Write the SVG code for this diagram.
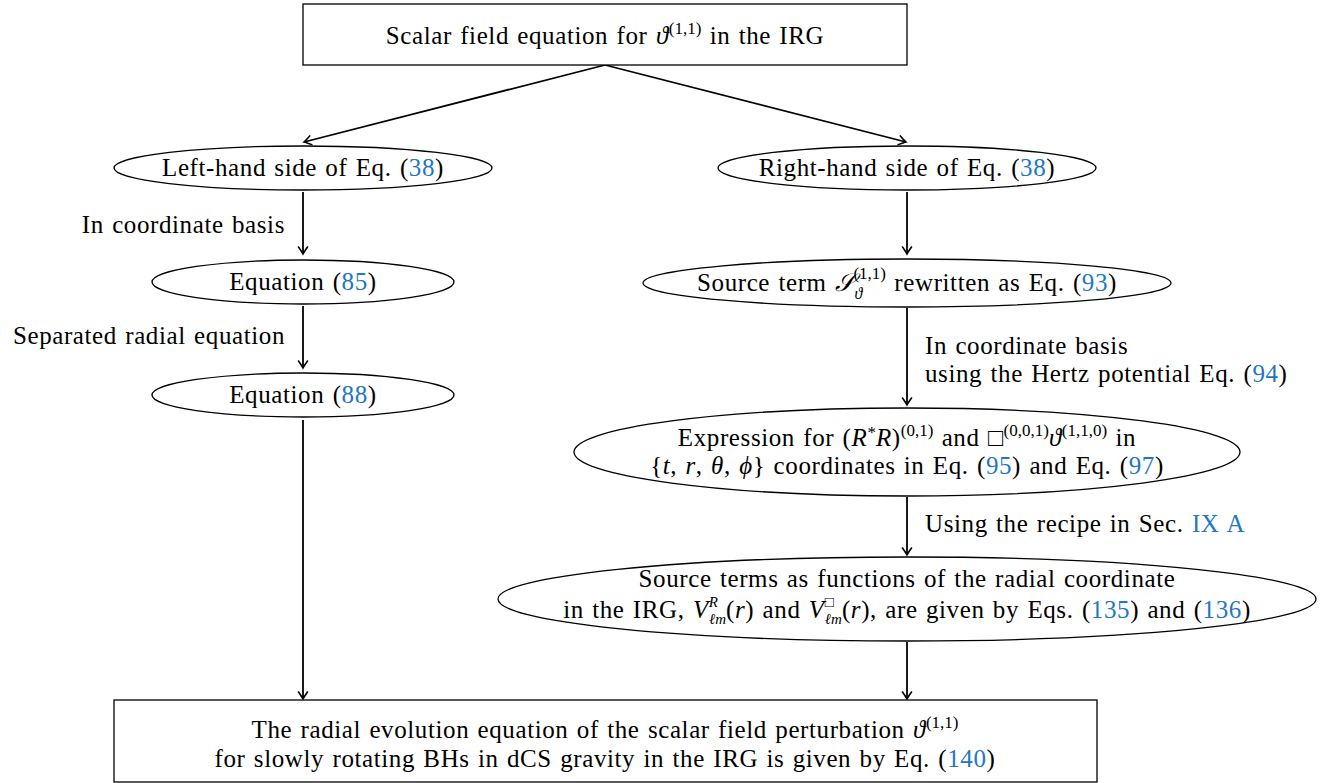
<svg xmlns="http://www.w3.org/2000/svg" width="1335" height="783" viewBox="0 0 1335 783">
<defs>
<marker id="arr" viewBox="-8 -6 10 12" markerWidth="10" markerHeight="12" refX="0" refY="0" orient="auto" markerUnits="userSpaceOnUse">
<path d="M -7 -4.5 Q -2 -1 0 0 Q -2 1 -7 4.5" fill="none" stroke="#000" stroke-width="1.6" stroke-linecap="round"/>
</marker>
<style>
text{font-family:'Liberation Serif',serif}
.t{font-size:25px;letter-spacing:0.6px;word-spacing:1.5px;fill:#000}
.m{text-anchor:middle}
.e{text-anchor:end}
.i{font-style:italic}
.b{fill:#1f78c4}
.s{font-size:17px;letter-spacing:0}
.u{font-size:16px;letter-spacing:0}
.v{font-size:15px;letter-spacing:0}
.shape{fill:#fff;stroke:#000;stroke-width:1.3}
.c{fill:none;stroke:#000;stroke-width:1.8;marker-end:url(#arr)}
</style>
</defs>
<g id="connectors">
<line class="c" x1="605" y1="65" x2="304" y2="142"/>
<line class="c" x1="605" y1="65" x2="906" y2="142"/>
<line class="c" x1="303" y1="192" x2="303" y2="254"/>
<line class="c" x1="303" y1="306" x2="303" y2="368"/>
<line class="c" x1="303" y1="420" x2="303" y2="699"/>
<line class="c" x1="907" y1="192" x2="907" y2="254"/>
<line class="c" x1="907" y1="308" x2="907" y2="405"/>
<line class="c" x1="907" y1="497" x2="907" y2="555"/>
<line class="c" x1="907" y1="642" x2="907" y2="699"/>
<text class="t e" x="285" y="233">In coordinate basis</text>
<text class="t e" x="285" y="344">Separated radial equation</text>
<text class="t" x="925" y="354">In coordinate basis</text>
<text class="t" x="925" y="382">using the Hertz potential Eq. (<tspan class="b">94</tspan>)</text>
<text class="t" x="925" y="532">Using the recipe in Sec. <tspan class="b">IX A</tspan></text>
</g>
<g id="n-top">
<rect class="shape" x="303" y="4" width="604" height="61"/>
<text class="t m" x="605" y="44">Scalar field equation for <tspan class="i">ϑ</tspan><tspan class="s" dy="-10">(1,1)</tspan><tspan dy="10"> in the IRG</tspan></text>
</g>
<g id="n-lhs">
<ellipse class="shape" cx="303" cy="168" rx="189" ry="22"/>
<text class="t m" x="303" y="176">Left-hand side of Eq. (<tspan class="b">38</tspan>)</text>
</g>
<g id="n-rhs">
<ellipse class="shape" cx="907" cy="168" rx="189" ry="22"/>
<text class="t m" x="907" y="176">Right-hand side of Eq. (<tspan class="b">38</tspan>)</text>
</g>
<g id="n-eq85">
<ellipse class="shape" cx="303" cy="282" rx="151" ry="22"/>
<text class="t m" x="303" y="290">Equation (<tspan class="b">85</tspan>)</text>
</g>
<g id="n-eq88">
<ellipse class="shape" cx="303" cy="395" rx="151" ry="22"/>
<text class="t m" x="303" y="403">Equation (<tspan class="b">88</tspan>)</text>
</g>
<g id="n-source">
<ellipse class="shape" cx="907" cy="283" rx="264" ry="24"/>
<text class="t m" x="907" y="291">Source term <tspan class="i">𝒮</tspan><tspan class="u i" dy="8">ϑ</tspan><tspan class="s" dx="-9" dy="-20">(1,1)</tspan><tspan dy="12"> rewritten as Eq. (</tspan><tspan class="b">93</tspan>)</text>
</g>
<g id="n-expr">
<ellipse class="shape" cx="907" cy="452" rx="333" ry="44"/>
<text class="t m" x="907" y="446">Expression for (<tspan class="i">R</tspan><tspan class="s" dy="-8">*</tspan><tspan class="i" dy="8">R</tspan>)<tspan class="s" dy="-10">(0,1)</tspan><tspan dy="10"> and □</tspan><tspan class="s" dy="-10">(0,0,1)</tspan><tspan class="i" dy="10">ϑ</tspan><tspan class="s" dy="-10">(1,1,0)</tspan><tspan dy="10"> in</tspan></text>
<text class="t m" x="907" y="474">{<tspan class="i">t</tspan>, <tspan class="i">r</tspan>, <tspan class="i">θ</tspan>, <tspan class="i">ϕ</tspan>} coordinates in Eq. (<tspan class="b">95</tspan>) and Eq. (<tspan class="b">97</tspan>)</text>
</g>
<g id="n-terms">
<ellipse class="shape" cx="907" cy="599" rx="409" ry="42"/>
<text class="t m" x="907" y="587">Source terms as functions of the radial coordinate</text>
<text class="t m" x="907" y="618">in the IRG, <tspan class="i">V</tspan><tspan class="v i" dy="-11">R</tspan><tspan class="v i" dx="-9" dy="17">ℓm</tspan><tspan dy="-6">(</tspan><tspan class="i">r</tspan>) and <tspan class="i">V</tspan><tspan class="v" dy="-11">□</tspan><tspan class="v i" dx="-9" dy="17">ℓm</tspan><tspan dy="-6">(</tspan><tspan class="i">r</tspan>), are given by Eqs. (<tspan class="b">135</tspan>) and (<tspan class="b">136</tspan>)</text>
</g>
<g id="n-result">
<rect class="shape" x="114" y="700" width="983" height="82"/>
<text class="t m" x="605" y="738">The radial evolution equation of the scalar field perturbation <tspan class="i">ϑ</tspan><tspan class="s" dy="-10">(1,1)</tspan></text>
<text class="t m" x="605" y="767">for slowly rotating BHs in dCS gravity in the IRG is given by Eq. (<tspan class="b">140</tspan>)</text>
</g>
</svg>
